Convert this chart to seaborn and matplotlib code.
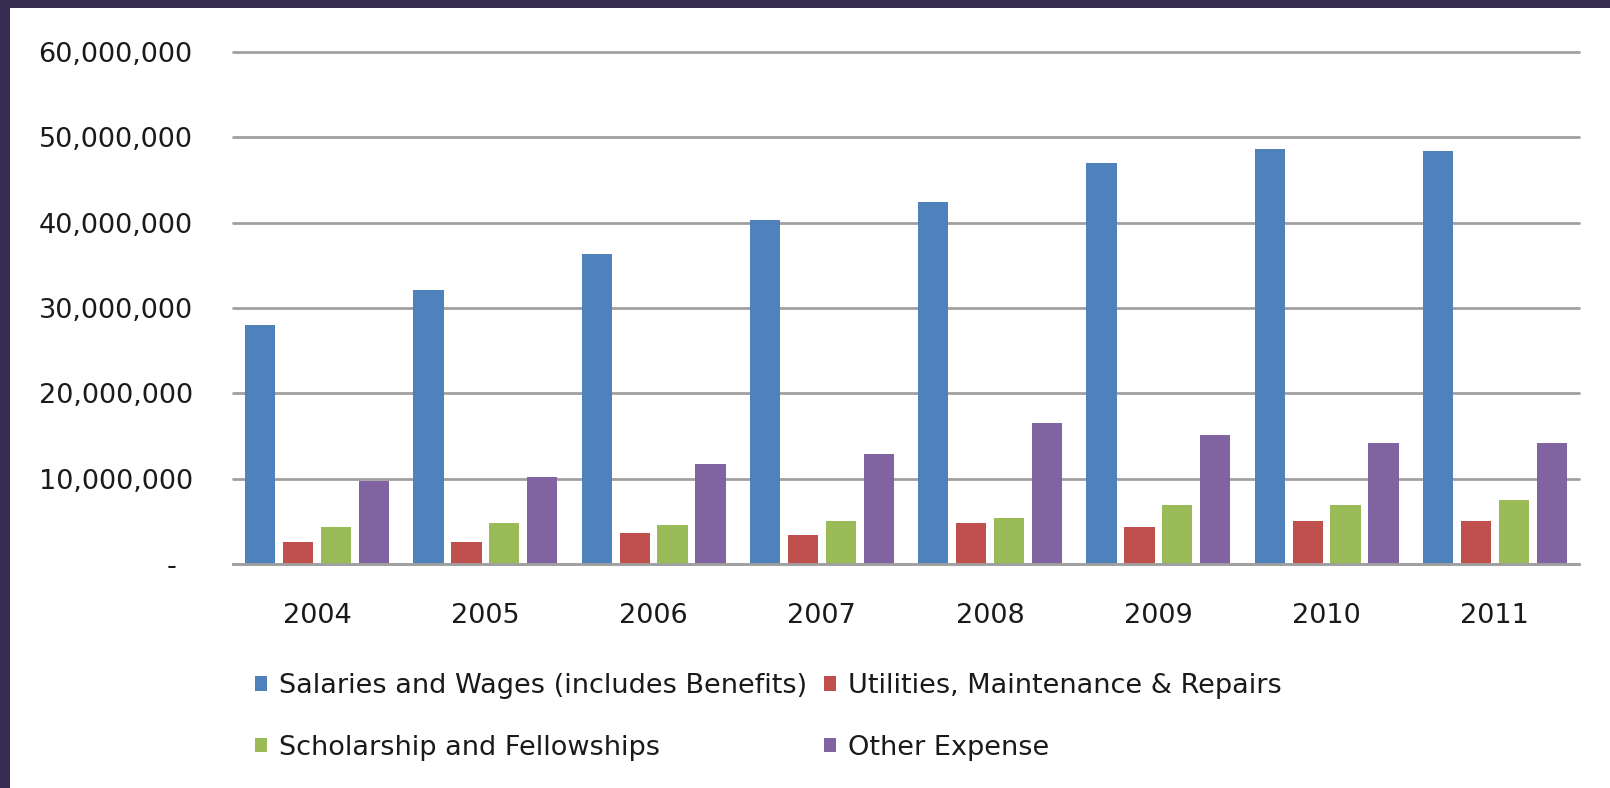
import pandas as pd
import numpy as np
import matplotlib
matplotlib.use('Agg')
import matplotlib.pyplot as plt
import matplotlib.transforms as mtransforms
from matplotlib.patches import Rectangle
from matplotlib.ticker import FuncFormatter
import seaborn as sns

# Chart values
years = ['2004', '2005', '2006', '2007', '2008', '2009', '2010', '2011']
series_names = ['Salaries and Wages (includes Benefits)',
                'Utilities, Maintenance & Repairs',
                'Scholarship and Fellowships',
                'Other Expense']
salaries = [27.97e6, 32.08e6, 36.35e6, 40.35e6, 42.47e6, 47.02e6, 48.65e6, 48.42e6]
utilities = [2.53e6, 2.53e6, 3.69e6, 3.37e6, 4.78e6, 4.31e6, 5.08e6, 5.08e6]
scholarship = [4.34e6, 4.84e6, 4.59e6, 5.06e6, 5.37e6, 6.86e6, 6.87e6, 7.50e6]
other = [9.73e6, 10.23e6, 11.76e6, 12.94e6, 16.55e6, 15.10e6, 14.14e6, 14.14e6]
y_ticks = [0, 10e6, 20e6, 30e6, 40e6, 50e6, 60e6]

colors = ['#4F81BD', '#C0504D', '#9BBB59', '#8064A2']

# long format table for seaborn
df = pd.DataFrame({
    'Year': years * 4,
    'Series': np.repeat(series_names, len(years)),
    'Value': salaries + utilities + scholarship + other,
})

sns.set_style('white')
plt.rcParams['font.family'] = ['DejaVu Sans']
text_color = '#1A1A1A'

fig = plt.figure(figsize=(16.1, 7.88), dpi=100, facecolor='#372D50')
# white chart area inside the dark frame (frame on top and left only)
fig.patches.append(Rectangle((10 / 1610, 0), 1, 1 - 8 / 788, transform=fig.transFigure,
                             facecolor='white', edgecolor='none', zorder=-1))

ax = fig.add_axes([233 / 1610, 1 - 564 / 788, (1579 - 233) / 1610, (564 - 52) / 788])
ax.set_facecolor('white')

sns.barplot(data=df, x='Year', y='Value', hue='Series', hue_order=series_names,
            order=years, palette=colors, width=0.9, gap=0.2, ax=ax, saturation=1,
            edgecolor='none')

ax.set_xlim(-0.5, len(years) - 0.5)
ax.set_ylim(0, 60e6)
ax.set_yticks(y_ticks)
ax.yaxis.set_major_formatter(FuncFormatter(lambda v, p: '-' if v == 0 else f'{v:,.0f}'))
ax.set_xlabel('')
ax.set_ylabel('')

ax.yaxis.grid(True, color='#A0A0A0', linewidth=2)
ax.xaxis.grid(False)
ax.set_axisbelow(True)
for line in ax.get_ygridlines():
    line.set_clip_on(False)
for side in ['top', 'right', 'left']:
    ax.spines[side].set_visible(False)
ax.spines['bottom'].set_color('#A0A0A0')
ax.spines['bottom'].set_linewidth(2)

ax.tick_params(axis='both', length=0, labelsize=19.5, labelcolor=text_color)
ax.tick_params(axis='y', pad=29)
ax.tick_params(axis='x', pad=28)

# shift the zero dash to the left like the accounting format
offset = mtransforms.ScaledTranslation(-16 / 100, 0, fig.dpi_scale_trans)
zero_label = ax.get_yticklabels()[0]
zero_label.set_transform(zero_label.get_transform() + offset)

# legend below the plot, two per row
handles, labels = ax.get_legend_handles_labels()
ax.legend_.remove()
order = [0, 2, 1, 3]
fig.legend([handles[i] for i in order], [labels[i] for i in order],
           loc='center left', bbox_to_anchor=(255 / 1610, 1 - 717 / 788),
           ncol=2, frameon=False, fontsize=19.5, labelcolor=text_color,
           handlelength=0.45, handleheight=0.45, handletextpad=0.45,
           columnspacing=0.6, labelspacing=1.3, borderpad=0, borderaxespad=0)

fig.savefig('out.png', dpi=100, facecolor=fig.get_facecolor())
